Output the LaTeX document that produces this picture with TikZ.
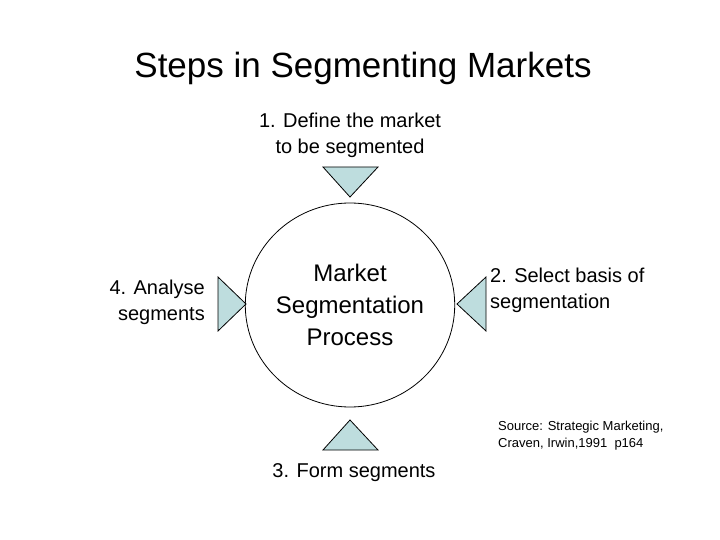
\documentclass[tikz,border=0pt]{standalone}
\usepackage{fontspec}
\setmainfont{Liberation Sans}
\usetikzlibrary{shapes.geometric}
\definecolor{tealfill}{RGB}{190,221,222}
\tikzset{
  tri/.style={draw=black, fill=tealfill, line width=0.8pt, line join=miter},
  lbl/.style={font=\fontsize{20}{26}\selectfont, align=center, inner sep=0pt},
}
\begin{document}
\begin{tikzpicture}[x=1pt, y=-1pt]
            \useasboundingbox (0,0) rectangle (720,540);
            \node[font=\fontsize{35}{40}\selectfont] (title) at (363,68) {Steps in Segmenting Markets};
            \node[ellipse, draw, line width=0.8pt, minimum width=194pt, minimum height=204pt,
                  font=\fontsize{24}{32}\selectfont, align=center, inner sep=0pt] (proc) at (350,305)
                  {Market\\Segmentation\\Process};
            \node[lbl] (define) at (350,135) {1. Define the market\\to be segmented};
            \node[lbl, align=left, anchor=west] (select) at (490,290) {2. Select basis of\\segmentation};
            \node[lbl] (form) at (354,473) {3. Form segments};
            \node[lbl, align=right, anchor=east] (analyse) at (205,302) {4. Analyse\\segments};
            \node[font=\fontsize{13}{17}\selectfont, align=left, anchor=west, inner sep=0pt] (source) at (498,436)
                  {Source: Strategic Marketing,\\Craven, Irwin,1991\ \ p164};
            % pointers
            \draw[tri] (323,167) -- (378,167) -- (350,197) -- cycle;
            \draw[tri] (323,450) -- (378,450) -- (350,420) -- cycle;
            \draw[tri] (486,277) -- (486,331) -- (457,304) -- cycle;
            \draw[tri] (218,277) -- (218,331) -- (246,304) -- cycle;
\end{tikzpicture}
\end{document}
